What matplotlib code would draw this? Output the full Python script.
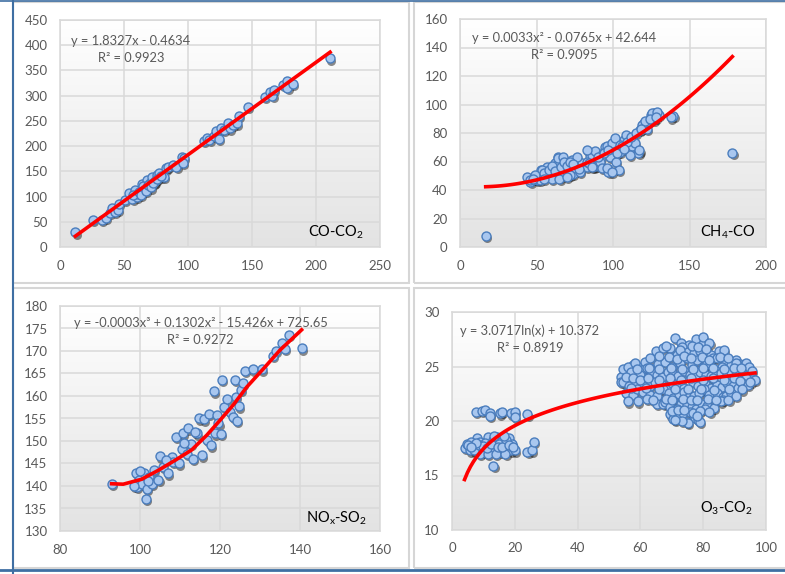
import numpy as np
import matplotlib
matplotlib.use("Agg")
import matplotlib.pyplot as plt
from matplotlib.colors import LinearSegmentedColormap
from matplotlib.patches import Rectangle
from matplotlib.lines import Line2D
from matplotlib.transforms import offset_copy

plt.rcParams['font.family'] = ['Lato', 'DejaVu Sans']
plt.rcParams['mathtext.fontset'] = 'custom'
plt.rcParams['mathtext.rm'] = 'Lato'
plt.rcParams['mathtext.it'] = 'Lato:italic'

# ---------- dados ----------
# CO-CO2
co_x = [12, 26, 33, 36, 39, 41, 43, 45, 46, 51, 54, 56.5, 58.6, 60, 61, 64, 66, 68, 70,
        72, 74, 75.5, 77.6, 81, 82.5, 84.6, 88, 91, 95, 97, 96, 57, 62, 63, 65, 67, 69,
        71, 73, 76, 79, 112.5, 114.6, 116.7, 120, 122, 124, 125.5, 128, 131.5, 133, 135,
        138, 139.6, 147, 160, 164, 166, 167, 174, 177.6, 177.6, 182, 211]
co2_y = [29, 53.5, 53, 58, 67, 78, 70, 73, 85, 94, 108, 96, 113, 100, 106, 125, 116, 133, 126,
         139, 130, 143, 146, 139, 156, 159, 162.5, 159, 178, 176, 167, 103, 110, 103, 120, 112, 122,
         118, 127, 135, 140, 211, 217, 212, 220, 229, 215, 235, 232, 246, 235, 242,
         245, 260, 278, 297, 308, 300, 311, 321, 329, 316, 324, 374]
lin_a, lin_b = 1.8327, -0.4634

# CH4-CO
ch4_x = [16.8, 178, 139.5, 138, 43.6, 46, 50, 53, 56.7, 59, 62, 64, 67.5, 70, 73, 73.6, 76,
         79.5, 83, 85, 88, 89, 92, 95, 97, 97, 98, 100.7, 102, 104, 104.6, 107, 108.5, 110,
         111, 113, 116.6, 117.7, 120, 122, 125, 127, 130, 123, 45.8, 50.1, 53.4, 56.2, 52.3,
         61, 63.2, 64.3, 66.5, 67.5, 69.7, 71.9, 75.2, 78.4, 82.8, 86.1, 87.2, 88.3, 91.5,
         92.6, 93.7, 95.9, 99.1, 101.3, 102.4, 104.6, 112.2, 114.4, 118.8, 120.9, 125.3,
         126.4, 128.6, 49, 65.4, 71.9, 76.3, 82.8, 95.9, 99.1, 111.1, 117.2,
         55, 58, 60, 62, 66, 68, 70, 72, 74, 60, 65, 70, 55, 48, 78, 84, 86, 90, 94, 97,
         106, 109, 112, 115, 118, 124, 128, 107]
co_y = [8, 65.8, 91.8, 91, 49, 45.7, 47, 54, 56, 50, 58.6, 63, 62, 54, 61, 51.5, 56,
        58.6, 56, 63, 66, 57, 63, 70, 55, 52.7, 63, 72.6, 60, 54, 67, 75, 78.5, 70,
        67.5, 73, 66, 82, 86.7, 83, 92.5, 93.7, 92.5, 88, 47.1, 48.2, 54.1, 49.9, 47.1,
        52.9, 57.6, 62.4, 52.9, 63.1, 58.8, 55.3, 55.3, 52.9, 60, 64.7, 56.5, 67.1, 60,
        55.3, 65.9, 70.6, 72.9, 76.5, 65.9, 71.8, 70.6, 72.9, 85.9, 88.2, 94.1,
        89.4, 94.6, 50.6, 49.4, 50.6, 63.5, 68.2, 55.3, 52.9, 64.7, 67.8,
        52, 54, 57, 53, 56, 60, 57, 60, 58, 48, 48, 49, 48, 48, 55, 59, 56, 63, 66, 68,
        71, 74, 77, 80, 83, 90, 91, 69]
quad_a, quad_b, quad_c = 0.0033, -0.0765, 42.644

# NOx-SO2
nox_x = [92.9, 99, 99.2, 99.8, 100.4, 101, 101.4, 101.7, 102.3, 103, 103.5, 104.6, 105,
         105.8, 107, 108, 108.3, 109, 109.8, 110.4, 110.8, 111.7, 112, 112.7, 113.3, 114.2,
         114.8, 115.4, 116, 116.7, 117.2, 117.7, 118.5, 118.8, 119.2, 119.6, 120.2, 120.4,
         121, 121.8, 122.5, 123.2, 123.8, 124, 124.3, 124.8, 125.2, 125.8, 126.3, 128.3,
         130.4, 133.2, 134, 135.4, 136.3, 137.3, 140.4, 98.5, 100, 102, 106.5, 111, 113.8]
so2_y = [140.5, 142.9, 139.8, 141.3, 140.5, 142.8, 137.2, 139.4, 142, 140.5, 143.5, 141.4, 146.6,
         144.2, 142.8, 146.5, 145.4, 150.9, 145, 148.3, 151.7, 147.2, 152.8, 149.4, 146.1, 151.7,
         155, 146.8, 154.8, 150.2, 156.1, 149, 161, 151.7, 155.7, 153.9, 151.5, 163.5,
         157.6, 159.3, 156.5, 155.4, 163.5, 159.8, 154.5, 157.7, 161.3, 162.8, 165.6, 165.9,
         165.9, 168.9, 170, 171.8, 170.4, 173.5, 170.6, 140, 143.3, 141, 145.8, 149.5, 152]
# curva de tendência (polinómio de 3.º grau)
cub_x = [92.9, 95.8, 100.4, 104.6, 108.75, 112.9, 116.7, 120, 123.3, 126.7, 130.8, 135, 140.4]
cub_y = [140.5, 140.4, 141.5, 143.5, 145.7, 148, 151.3, 154.6, 158, 162, 166, 170.2, 174.7]

# O3-CO2
o3_x = [7.6, 9.4, 10.5, 12.1, 12, 15.3, 16, 18.7, 20, 20, 24,
        4.1, 4.7, 5.7, 6.8, 7.9, 8.1, 8.9, 9.5, 10.2, 11, 11.6, 12.1, 12.8, 13.2, 13.7,
        14.2, 14.8, 15.4, 15.8, 16.3, 16.9, 17.6, 18, 18.7, 19.2, 20, 24, 25.4, 26.1,
        6.2, 10.5, 13, 15, 17.2, 9, 11.5, 14, 17,
        5.2, 7, 8.5, 10, 11, 12.5, 14.5, 16, 18, 19.5, 13.5, 16.5, 7.5, 6,
        71, 73, 75.5, 77.8, 79.7, 80, 82,
        64.9, 67.3, 69.5, 71.6, 73.2, 75, 77, 79, 82.4, 84.9, 86.7,
        57.6, 59.5, 61.5, 63, 65.5, 67.8, 70, 72.7, 74.8, 76.5, 78.1, 80, 81.3, 83, 84.5,
        87.2, 88.8, 90.4, 91.8, 93.1, 93.7, 86,
        53.8, 54.6, 56.2, 58.2, 60.4, 57.1, 59.8, 61.9, 63.5, 65.2, 67, 68.9, 70.5, 72.1,
        74, 75.9, 77.5, 79.1, 80.8, 82.4, 84, 85.6, 87.2, 88.8, 90.5, 92.6, 94.4, 95.3,
        96.5, 93.5,
        53.8, 54.4, 56.5, 58.5, 60.5, 63, 64.5, 66.8, 68.5, 70.2, 72, 74, 76.9, 78.5,
        80.5, 82.5, 84.3, 86, 87.7, 89.5, 91, 92.5, 94.2,
        55.5, 57.5, 59, 60.9, 63, 65.2, 67.3, 69, 70.5, 72.3, 73.8, 75.5, 77, 78.8, 80.2,
        82, 84.5, 86.2, 87.2, 89, 90.5, 86.4,
        55.9, 59.3, 65.2, 67.3, 67.8, 69.5, 71, 72.8, 74.8, 76.5, 77.8, 79.5, 81.3, 83.4,
        85.6, 80.6, 71.6,
        69.5, 70.5, 72.5, 73.7, 75.9, 74.7, 77.5, 78.4, 79, 75, 73.2, 71.1,
        68, 72.5, 76.5, 78.5, 81,
        63, 66, 69, 71.5, 74, 76, 79.5, 82, 85.5, 88, 90.5, 94.5, 62,
        55.5, 58.8, 62.8, 66, 69.8, 73.2, 76.8, 79.8, 83.2, 86.5, 89.8, 92, 95.5,
        57.5, 60, 62.5, 66, 69.5, 73, 76.2, 79.8, 83.2, 86.5, 89.8, 91.8, 95,
        57, 61.8, 65.8, 71, 75.2, 79.2, 83.5, 88.2, 92.2,
        62, 64, 68.2, 70, 73.5, 76, 78, 81.5, 84, 88,
        70, 72, 74, 76.8, 79, 82, 78]
co2b_y = [20.8, 20.9, 21.0, 20.75, 20.5, 20.7, 20.8, 20.7, 20.8, 20.4, 20.6,
          17.5, 17.9, 17.3, 17.9, 18.4, 17.6, 18.1, 17.4, 17.2, 18.2, 18.5, 17.6, 17.3, 15.9, 17.95,
          18.5, 17.5, 17.2, 18.2, 17.2, 17.8, 17.6, 18.4, 17.3, 17.9, 17.3, 17.2, 17.3, 18.1,
          18.1, 18.0, 18.3, 17.9, 18.3, 17.0, 17.0, 17.0, 17.0,
          17.8, 17.3, 17.8, 17.7, 17.5, 17.9, 17.6, 17.6, 17.8, 17.6, 18.6, 18.6, 18.0, 17.6,
          27.6, 27.2, 27.0, 27.5, 27.0, 27.7, 27.2,
          26.4, 26.7, 26.7, 26.1, 26.8, 26.3, 26.2, 26.4, 26.1, 26.4, 26.5,
          25.15, 25.0, 25.4, 24.85, 25.2, 25.45, 25.0, 25.3, 25.75, 25.1, 25.6, 25.0, 25.3, 25.8, 25.75,
          25.45, 25.1, 25.6, 25.2, 25.15, 25.3, 25.0,
          24.0, 24.8, 25.0, 25.3, 24.7, 24.5, 24.2, 23.8, 24.5, 24.2, 24.0, 24.5, 24.3, 24.1,
          24.6, 24.2, 24.0, 24.5, 24.2, 24.1, 24.6, 24.4, 24.0, 24.5, 24.2, 24.5, 24.2, 24.1,
          23.8, 23.9,
          23.6, 23.6, 23.2, 23.5, 23.3, 23.2, 23.6, 23.3, 23.0, 23.5, 23.2, 23.0, 23.6, 23.2,
          23.4, 23.0, 23.3, 23.1, 23.5, 23.2, 23.0, 23.5, 23.3,
          22.6, 22.4, 22.9, 22.7, 22.4, 22.3, 22.9, 22.6, 22.1, 22.5, 22.7, 22.2, 22.3, 22.6, 22.9,
          22.4, 22.6, 22.2, 22.3, 22.6, 22.3, 21.9,
          21.8, 21.8, 21.6, 21.6, 21.7, 21.3, 21.0, 21.6, 21.5, 21.3, 21.1, 21.6, 21.4, 21.2,
          21.8, 21.1, 21.1,
          20.6, 20.2, 20.5, 20.7, 20.8, 19.9, 20.3, 20.1, 19.95, 19.85, 20.0, 20.1,
          26.9, 26.5, 26.9, 26.8, 26.6,
          25.8, 26.0, 25.9, 25.7, 26.0, 25.8, 25.9, 25.6, 25.9, 25.8, 25.3, 25.0, 24.9,
          24.0, 24.8, 24.9, 24.8, 24.9, 24.8, 24.8, 24.9, 24.9, 24.8, 24.9, 24.9, 24.6,
          23.9, 23.8, 23.9, 23.8, 23.9, 23.8, 23.9, 23.8, 23.9, 23.8, 23.9, 23.7, 23.6,
          23.0, 23.0, 22.9, 22.9, 22.9, 22.9, 22.8, 22.9, 22.9,
          22.0, 21.9, 22.0, 21.9, 22.0, 21.9, 21.9, 22.0, 21.9, 21.9,
          20.9, 21.0, 21.0, 20.7, 20.9, 20.8, 20.5]
log_a, log_b = 3.0717, 10.372

# ---------- figura ----------
W, H = 785, 574
fig = plt.figure(figsize=(W / 100, H / 100), dpi=100)
fig.patch.set_facecolor('white')

grad = LinearSegmentedColormap.from_list('bg', ['#ffffff', '#e3e3e3'])


def painel(l, t, r, b):
    # eixo posicionado em pixels da imagem
    return fig.add_axes([l / W, 1 - b / H, (r - l) / W, (b - t) / H])


def caixa(l, t, r, b):
    fig.add_artist(Rectangle((l / W, 1 - b / H), (r - l) / W, (b - t) / H,
                             transform=fig.transFigure, fill=False,
                             ec='#d6d6d6', lw=1.5))


def estilo(ax, xlim, ylim, xstep, ystep):
    ax.imshow(np.linspace(0, 1, 256).reshape(-1, 1), cmap=grad, extent=[0, 1, 0, 1],
              transform=ax.transAxes, aspect='auto', zorder=0)
    ax.set_xlim(xlim)
    ax.set_ylim(ylim)
    ax.set_xticks(np.arange(xlim[0], xlim[1] + 0.1, xstep))
    ax.set_yticks(np.arange(ylim[0], ylim[1] + 0.1, ystep))
    ax.grid(True, color='#d9d9d9', lw=1.1)
    ax.set_axisbelow(True)
    for s in ax.spines.values():
        s.set_color('#d9d9d9')
        s.set_linewidth(1.1)
    ax.tick_params(length=0, labelsize=9.5, labelcolor='#595959', pad=9)


def pontos(ax, x, y):
    sombra = offset_copy(ax.transData, fig=fig, x=1.2, y=-2.2, units='dots')
    ax.scatter(x, y, s=42, color='black', alpha=0.45, lw=0, transform=sombra, zorder=2)
    ax.scatter(x, y, s=42, facecolor='#a9c7ef', edgecolor='#4a7dbd', lw=1.0, zorder=3)


def legenda(ax, x, y1, y2, eq, r2):
    ax.text(x, y1, eq, transform=ax.transAxes, ha='center', va='center',
            fontsize=9.3, color='#595959', zorder=5)
    ax.text(x, y2, r2, transform=ax.transAxes, ha='center', va='center',
            fontsize=9.3, color='#595959', zorder=5)


caixa(13, 2, 409, 283)
caixa(414, 2, 790, 283)
caixa(13, 288, 409, 568)
caixa(414, 288, 790, 568)

# CO-CO2
ax1 = painel(60, 20, 380, 247)
estilo(ax1, (0, 250), (0, 450), 50, 50)
pontos(ax1, co_x, co2_y)
xl = np.linspace(min(co_x), max(co_x), 50)
ax1.plot(xl, lin_a * xl + lin_b, color='red', lw=2.6, zorder=4)
legenda(ax1, 0.222, 0.907, 0.833, 'y = 1.8327x - 0.4634', 'R² = 0.9923')
ax1.text(0.95, 0.045, r'CO-CO$_\mathregular{2}$', transform=ax1.transAxes,
         ha='right', va='baseline', fontsize=10.5, color='black')

# CH4-CO
ax2 = painel(460, 19, 766, 247)
estilo(ax2, (0, 200), (0, 160), 50, 20)
pontos(ax2, ch4_x, co_y)
xq = np.linspace(min(ch4_x), max(ch4_x), 100)
ax2.plot(xq, quad_a * xq ** 2 + quad_b * xq + quad_c, color='red', lw=2.6, zorder=4)
legenda(ax2, 0.34, 0.918, 0.842, 'y = 0.0033x² - 0.0765x + 42.644', 'R² = 0.9095')
ax2.text(0.967, 0.045, r'CH$_\mathregular{4}$-CO', transform=ax2.transAxes,
         ha='right', va='baseline', fontsize=10.5, color='black')

# NOx-SO2
ax3 = painel(60, 306, 380, 531)
estilo(ax3, (80, 160), (130, 180), 20, 5)
pontos(ax3, nox_x, so2_y)
ax3.plot(cub_x, cub_y, color='red', lw=2.6, zorder=4)
legenda(ax3, 0.44, 0.924, 0.849, 'y = -0.0003x³ + 0.1302x² - 15.426x + 725.65', 'R² = 0.9272')
ax3.text(0.96, 0.036, r'NO$_\mathregular{x}$-SO$_\mathregular{2}$', transform=ax3.transAxes,
         ha='right', va='baseline', fontsize=10.5, color='black')

# O3-CO2
ax4 = painel(452, 312, 766, 530)
estilo(ax4, (0, 100), (10, 30), 20, 5)
pontos(ax4, o3_x, co2b_y)
xg = np.linspace(4, max(o3_x), 100)
ax4.plot(xg, log_a * np.log(xg) + log_b, color='red', lw=2.6, zorder=4)
legenda(ax4, 0.248, 0.913, 0.835, 'y = 3.0717ln(x) + 10.372', 'R² = 0.8919')
ax4.text(0.958, 0.078, r'O$_\mathregular{3}$-CO$_\mathregular{2}$', transform=ax4.transAxes,
         ha='right', va='baseline', fontsize=10.5, color='black')

# moldura azul exterior
azul = '#3f6fa3'
fig.add_artist(Line2D([12.5 / W, 12.5 / W], [0, 1], color=azul, lw=1.5, transform=fig.transFigure))
fig.add_artist(Line2D([0, 1], [1 - 570 / H, 1 - 570 / H], color=azul, lw=2, transform=fig.transFigure))
fig.add_artist(Line2D([0, 1], [1 - 0.8 / H, 1 - 0.8 / H], color=azul, lw=1.2, transform=fig.transFigure))

fig.savefig('out.png', dpi=100)
